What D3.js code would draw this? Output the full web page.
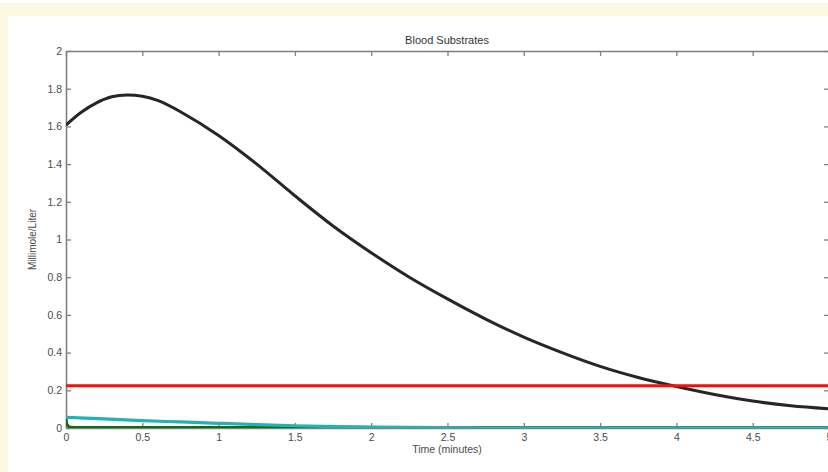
<!DOCTYPE html>
<html>
<head>
<meta charset="utf-8">
<script src="https://cdn.jsdelivr.net/npm/d3@7"></script>
<style>
  html, body { margin: 0; padding: 0; background: #ffffff; overflow: hidden; }
  svg { display: block; font-family: "Liberation Sans", Arial, sans-serif; }
</style>
</head>
<body>
<svg id="chart" width="828" height="472"></svg>
<script>
// ---- data ----
const title = "Blood Substrates";
const xLabel = "Time (minutes)";
const yLabel = "Millimole/Liter";
const xTicks = [0, 0.5, 1, 1.5, 2, 2.5, 3, 3.5, 4, 4.5, 5];
const yTicks = [0, 0.2, 0.4, 0.6, 0.8, 1, 1.2, 1.4, 1.6, 1.8, 2];

const blackTime  = [0, 0.1, 0.2, 0.3, 0.4, 0.5, 0.6, 0.75, 1.0, 1.25, 1.5, 1.75, 2.0, 2.25, 2.5, 2.75, 3.0, 3.25, 3.5, 3.75, 4.0, 4.25, 4.5, 4.75, 5.0];
const blackValue = [1.607, 1.675, 1.725, 1.757, 1.767, 1.760, 1.738, 1.678, 1.552, 1.40, 1.232, 1.072, 0.93, 0.80, 0.685, 0.578, 0.482, 0.40, 0.327, 0.268, 0.22, 0.178, 0.143, 0.118, 0.102];

const redTime  = [0, 5];
const redValue = [0.224, 0.224];

const cyanTime  = [0, 0.25, 0.5, 0.75, 1.0, 1.25, 1.5, 1.75, 2.0, 2.5, 3.0, 4.0, 5.0];
const cyanValue = [0.057, 0.048, 0.039, 0.032, 0.025, 0.018, 0.012, 0.008, 0.005, 0.002, 0.001, 0.0006, 0.0005];

const greenTime  = [0, 0.005, 0.02, 0.05, 0.5, 1.0, 2.0, 3.0, 4.0, 5.0];
const greenValue = [0.05, 0.02, 0.006, 0.003, 0.003, 0.003, 0.003, 0.002, 0.002, 0.002];

// ---- layout ----
const svg = d3.select("#chart");
const W = 828, H = 472;
const mLeft = 66, mRight = 829, mTop = 51, mBottom = 428;

// background frame (cream border like the source page)
svg.append("rect").attr("x", 0).attr("y", 3).attr("width", W).attr("height", H - 3).attr("fill", "#fdf8e4");
svg.append("rect").attr("x", 8).attr("y", 16).attr("width", W - 8).attr("height", H - 16).attr("fill", "#ffffff");

const x = d3.scaleLinear().domain([0, 5]).range([mLeft, mRight]);
const y = d3.scaleLinear().domain([0, 2]).range([mBottom, mTop]);

svg.append("defs").append("clipPath").attr("id", "clip")
  .append("rect").attr("x", mLeft).attr("y", mTop).attr("width", mRight - mLeft).attr("height", mBottom - mTop);

const axisColor = "#808080";
const textColor = "#4a4a4a";
const tickLen = 5;

// axes (inward ticks on all four sides, MATLAB style)
const gBottom = svg.append("g").attr("transform", `translate(0,${mBottom})`)
  .call(d3.axisBottom(x).tickValues(xTicks).tickSizeInner(-tickLen).tickSizeOuter(0).tickPadding(6).tickFormat(d3.format("")));
const gTop = svg.append("g").attr("transform", `translate(0,${mTop})`)
  .call(d3.axisTop(x).tickValues(xTicks).tickSizeInner(-tickLen).tickSizeOuter(0).tickFormat(""));
const gLeft = svg.append("g").attr("transform", `translate(${mLeft},0)`)
  .call(d3.axisLeft(y).tickValues(yTicks).tickSizeInner(-tickLen).tickSizeOuter(0).tickPadding(4).tickFormat(d3.format("")));
const gRight = svg.append("g").attr("transform", `translate(${mRight},0)`)
  .call(d3.axisRight(y).tickValues(yTicks).tickSizeInner(-tickLen).tickSizeOuter(0).tickFormat(""));

[gBottom, gTop, gLeft, gRight].forEach(g => {
  g.select(".domain").attr("stroke", axisColor).attr("stroke-width", 1.6);
  g.selectAll(".tick line").attr("stroke", axisColor).attr("stroke-width", 1.3);
  g.selectAll(".tick text").attr("fill", textColor).style("font-size", "10.5px");
});

// series
const line = d3.line().x(d => x(d[0])).y(d => y(d[1]));
const plot = svg.append("g").attr("clip-path", "url(#clip)");

function drawSeries(times, values, color, width, curve) {
  const pts = times.map((t, i) => [t, values[i]]);
  plot.append("path")
    .datum(pts)
    .attr("fill", "none")
    .attr("stroke", color)
    .attr("stroke-width", width)
    .attr("stroke-linejoin", "round")
    .attr("d", line.curve(curve)(pts));
}

drawSeries(blackTime, blackValue, "#262626", 3, d3.curveCatmullRom.alpha(0.5));
drawSeries(redTime, redValue, "#ee1111", 3, d3.curveLinear);
drawSeries(greenTime, greenValue, "#0b6e12", 3, d3.curveLinear);
drawSeries(cyanTime, cyanValue, "#22b3b3", 3.2, d3.curveMonotoneX);

// texts
svg.append("text").attr("x", 447).attr("y", 44).attr("text-anchor", "middle")
  .attr("fill", "#333").style("font-size", "11px").text(title);
svg.append("text").attr("x", 447).attr("y", 453).attr("text-anchor", "middle")
  .attr("fill", textColor).style("font-size", "10.5px").text(xLabel);
svg.append("text").attr("transform", `translate(36,${(mTop + mBottom) / 2}) rotate(-90)`)
  .attr("text-anchor", "middle").attr("fill", textColor).style("font-size", "10px").text(yLabel);
</script>
</body>
</html>
